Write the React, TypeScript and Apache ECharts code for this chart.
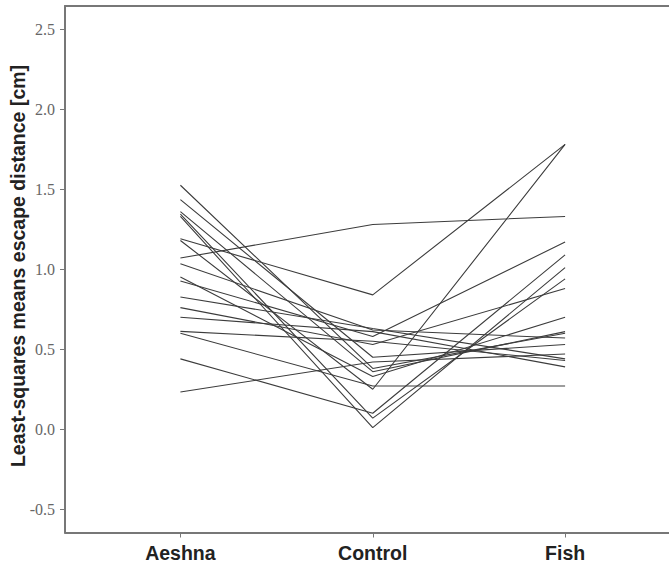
import React, { useEffect, useRef } from "react";
import * as echarts from "echarts";

const categories = ["Aeshna", "Control", "Fish"];
const yTitle = "Least-squares means escape distance [cm]";

// one line per individual: [Aeshna, Control, Fish]
const aeshnaValues = [1.07, 1.19, 1.525, 1.435, 1.36, 1.345, 1.33, 1.18, 1.035, 0.952, 0.927, 0.827, 0.76, 0.70, 0.612, 0.60, 0.44, 0.233];
const controlValues = [1.28, 0.84, 0.38, 0.45, 0.36, 0.07, 0.01, 0.25, 0.62, 0.33, 0.58, 0.63, 0.53, 0.61, 0.55, 0.27, 0.10, 0.42];
const fishValues = [1.33, 1.78, 0.60, 0.53, 0.61, 0.94, 1.01, 1.78, 0.57, 0.70, 1.17, 0.44, 0.88, 0.39, 0.43, 0.27, 1.09, 0.47];

const yTicks = [-0.5, 0, 0.5, 1.0, 1.5, 2.0, 2.5];
const xTicks = [0, 1, 2];

export default function App() {
  const ref = useRef<HTMLDivElement>(null);
  useEffect(() => {
    if (!ref.current) return;
    const chart = echarts.init(ref.current, null, { renderer: "svg" });
    const series = aeshnaValues.map((a, i) => ({
      type: "line",
      xAxisIndex: 0,
      data: [
        [0, a],
        [1, controlValues[i]],
        [2, fishValues[i]],
      ],
      symbol: "none",
      lineStyle: { color: "#3c3c3c", width: 1.1 },
      silent: true,
    }));
    chart.setOption({
      animation: false,
      backgroundColor: "#ffffff",
      grid: {
        left: 65,
        right: -11.5,
        top: 6,
        bottom: 29.5,
        containLabel: false,
        outerBoundsMode: "none",
        show: false,
      },
      graphic: [
        {
          type: "text",
          x: 18,
          y: 266,
          rotation: Math.PI / 2,
          style: {
            text: yTitle,
            textAlign: "center",
            textVerticalAlign: "middle",
            fontFamily: "Liberation Sans, Arial, sans-serif",
            fontWeight: "bold",
            fontSize: 19.5,
            fill: "#222222",
          },
        },
      ],
      xAxis: [
        {
          type: "value",
          min: -0.6,
          max: 2.6,
          splitLine: { show: false },
          axisLine: { show: true, onZero: false, lineStyle: { color: "#777777", width: 2 } },
          axisTick: { show: true, length: 5, customValues: xTicks, lineStyle: { color: "#777777", width: 1 } },
          axisLabel: {
            customValues: xTicks,
            formatter: (v: number) => categories[Math.round(v)] ?? "",
            margin: 10,
            fontFamily: "Liberation Sans, Arial, sans-serif",
            fontWeight: "bold",
            fontSize: 19.5,
            color: "#222222",
          },
        },
        {
          type: "value",
          position: "top",
          min: -0.6,
          max: 2.6,
          splitLine: { show: false },
          axisLine: { show: true, onZero: false, lineStyle: { color: "#777777", width: 2 } },
          axisTick: { show: false },
          axisLabel: { show: false },
        },
      ],
      yAxis: {
        type: "value",
        min: -0.645,
        max: 2.645,
        splitLine: { show: false },
        axisLine: { show: true, onZero: false, lineStyle: { color: "#777777", width: 2 } },
        axisTick: { show: true, length: 5, customValues: yTicks, lineStyle: { color: "#777777", width: 1 } },
        axisLabel: {
          customValues: yTicks,
          formatter: (v: number) => v.toFixed(1),
          margin: 10,
          fontFamily: "Liberation Serif, Times New Roman, serif",
          fontSize: 16,
          color: "#666666",
        },
      },
      series,
    });
    return () => chart.dispose();
  }, []);
  return (
    <div
      ref={ref}
      style={{ position: "fixed", left: 0, top: 0, width: 669, height: 562, background: "#fff" }}
    />
  );
}
